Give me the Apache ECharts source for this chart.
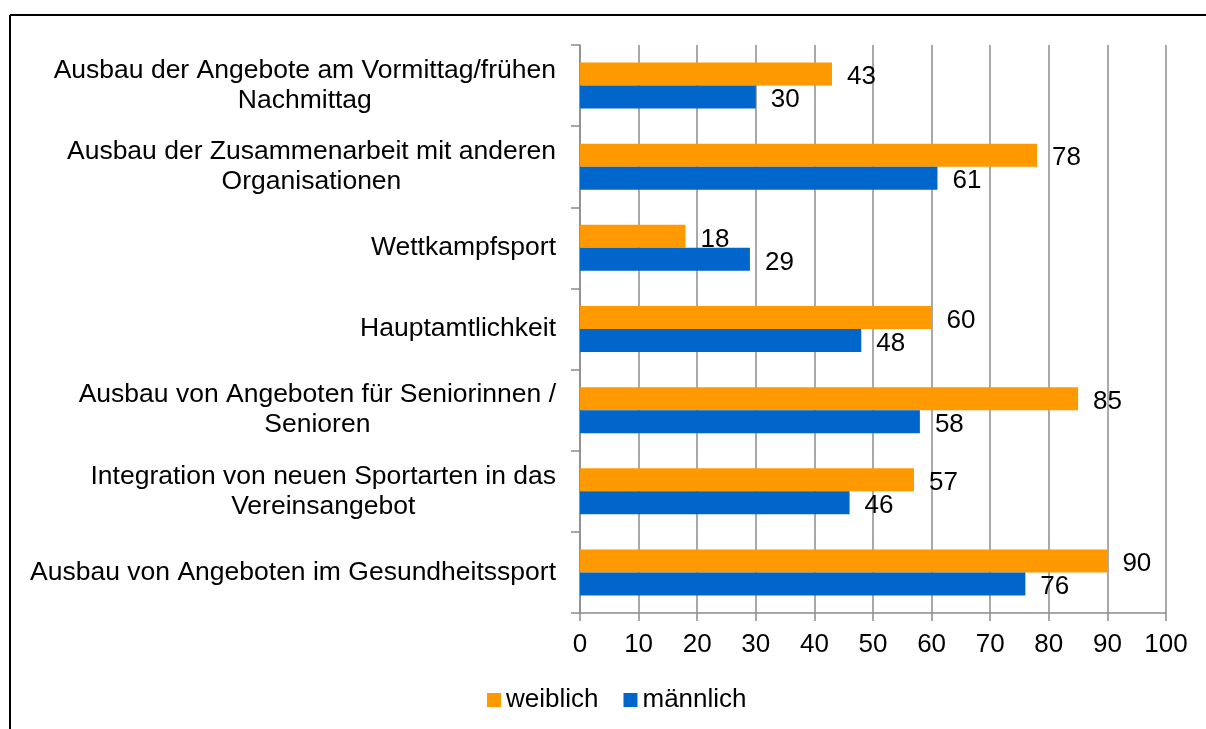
<!DOCTYPE html>
<html>
<head>
<meta charset="utf-8">
<script src="https://cdn.jsdelivr.net/npm/echarts@6/dist/echarts.min.js"></script>
<style>
  html, body { margin: 0; padding: 0; background: #fff; }
  #main { width: 1206px; height: 729px; }
</style>
</head>
<body>
<div id="main"></div>
<script>
// Kategorien von oben nach unten
var categories = [
  'Ausbau der Angebote am Vormittag/frühen\nNachmittag',
  'Ausbau der Zusammenarbeit mit anderen\nOrganisationen',
  'Wettkampfsport',
  'Hauptamtlichkeit',
  'Ausbau von Angeboten für Seniorinnen /\nSenioren',
  'Integration von neuen Sportarten in das\nVereinsangebot',
  'Ausbau von Angeboten im Gesundheitssport'
];
var weiblich = [43, 78, 18, 60, 85, 57, 90];
var maennlich = [30, 61, 29, 48, 58, 46, 76];
var xTicks = [0, 10, 20, 30, 40, 50, 60, 70, 80, 90, 100];

var font = '"Liberation Sans", Arial, sans-serif';
var grey = '#8c8c8c';

var chart = echarts.init(document.getElementById('main'));

function barLabel() {
  return {
    show: true,
    position: 'right',
    distance: 15,
    offset: [0, 3],
    color: '#000',
    fontSize: 26,
    fontFamily: font
  };
}

chart.setOption({
  animation: false,
  graphic: [
    { type: 'line', shape: { x1: 10, y1: 15, x2: 1206, y2: 15 }, style: { stroke: '#000', lineWidth: 2 } },
    { type: 'line', shape: { x1: 10, y1: 15, x2: 10, y2: 729 }, style: { stroke: '#000', lineWidth: 2 } }
  ],
  grid: { left: 580, right: 40, top: 45, bottom: 116 },
  legend: {
    left: 482,
    top: 682,
    icon: 'rect',
    itemWidth: 14,
    itemHeight: 14,
    itemGap: 25,
    textStyle: { fontSize: 26, fontFamily: font, color: '#000' },
    data: ['weiblich', 'männlich']
  },
  xAxis: {
    type: 'value',
    min: 0,
    max: 100,
    interval: 10,
    axisLine: { show: true, lineStyle: { color: grey, width: 1.5 } },
    axisTick: { show: true, length: 8, lineStyle: { color: grey, width: 1.5 } },
    splitLine: { show: true, lineStyle: { color: grey, width: 1.5 } },
    axisLabel: {
      margin: 19,
      color: '#000',
      fontSize: 26,
      fontFamily: font,
      formatter: function (v) { return xTicks.indexOf(v) >= 0 ? String(v) : ''; }
    }
  },
  yAxis: {
    type: 'category',
    inverse: true,
    data: categories,
    axisLine: { show: true, lineStyle: { color: grey, width: 1.5 } },
    axisTick: { show: true, length: 9, lineStyle: { color: grey, width: 1.5 } },
    axisLabel: {
      margin: 24,
      formatter: function (v) {
        return v.split('\n').map(function (s) { return '{c|' + s + '}'; }).join('\n');
      },
      rich: {
        c: { fontSize: 26.5, lineHeight: 30, align: 'center', color: '#000', fontFamily: font }
      }
    }
  },
  series: [
    {
      name: 'weiblich',
      type: 'bar',
      data: weiblich,
      barWidth: 23,
      barGap: '0%',
      itemStyle: { color: '#ff9900' },
      label: barLabel()
    },
    {
      name: 'männlich',
      type: 'bar',
      data: maennlich,
      barWidth: 23,
      barGap: '0%',
      itemStyle: { color: '#0066cc' },
      label: barLabel()
    }
  ]
});
</script>
</body>
</html>
